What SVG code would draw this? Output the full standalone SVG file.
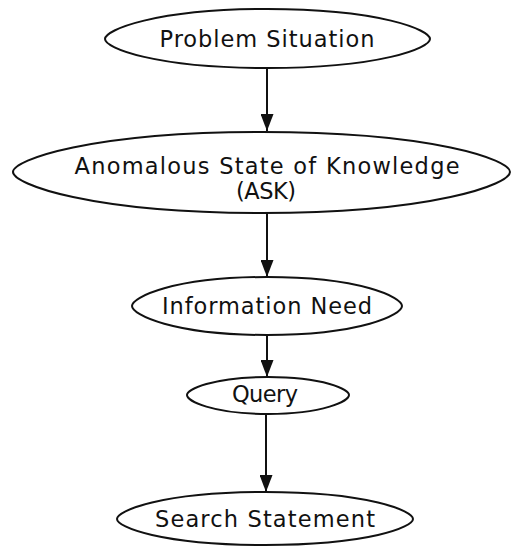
<svg xmlns="http://www.w3.org/2000/svg" width="513" height="547" viewBox="0 0 513 547">
  <style>
    .shape { fill: none; stroke: #111; stroke-width: 2; stroke-linejoin: round; }
    .label { font-family: "DejaVu Sans", "Liberation Sans", sans-serif; font-size: 22.5px; fill: #111; text-anchor: middle; }
    .edge { stroke: #111; stroke-width: 2; fill: none; }
  </style>
  <defs>
    <marker id="arrowhead" markerUnits="userSpaceOnUse" markerWidth="18" markerHeight="13" refX="17" refY="6.5" orient="auto">
      <path d="M0,0 L17,6.5 L0,13 Z" fill="#111"/>
    </marker>
  </defs>
  <rect width="513" height="547" fill="#fff"/>

  <g id="connectors">
    <line class="edge" x1="267" y1="68" x2="267" y2="131" marker-end="url(#arrowhead)"/>
    <line class="edge" x1="267" y1="213" x2="267" y2="277" marker-end="url(#arrowhead)"/>
    <line class="edge" x1="267" y1="335" x2="267" y2="377" marker-end="url(#arrowhead)"/>
    <line class="edge" x1="266" y1="414" x2="266" y2="492" marker-end="url(#arrowhead)"/>
  </g>

  <g id="problem-situation">
    <path class="shape" d="M105,39 C105,30 155,9 267.5,9 C380,9 430,30 430,39 C430,48 380,68 267.5,68 C155,68 105,48 105,39 Z"/>
    <text class="label" x="267" y="47" textLength="215" lengthAdjust="spacing">Problem Situation</text>
  </g>

  <g id="ask">
    <path class="shape" d="M13,172 C13,160 90,132 262,132 C434,132 510,160 510,172 C510,184 434,213 262,213 C90,213 13,184 13,172 Z"/>
    <text class="label" x="267" y="174" textLength="385" lengthAdjust="spacing">Anomalous State of Knowledge</text>
    <text class="label" x="266" y="199" textLength="60" lengthAdjust="spacing">(ASK)</text>
  </g>

  <g id="information-need">
    <path class="shape" d="M132,306 C132,297.3 173,277 267,277 C361,277 402,297.3 402,306 C402,314.7 361,335 267,335 C173,335 132,314.7 132,306 Z"/>
    <text class="label" x="267" y="314" textLength="210" lengthAdjust="spacing">Information Need</text>
  </g>

  <g id="query">
    <path class="shape" d="M187,395 C187,389.6 211.7,377 268,377 C324.3,377 349,389.6 349,395 C349,400.7 324.3,414 268,414 C211.7,414 187,400.7 187,395 Z"/>
    <text class="label" x="265" y="402" textLength="66" lengthAdjust="spacing">Query</text>
  </g>

  <g id="search-statement">
    <path class="shape" d="M117,519 C117,511 161,492 265,492 C369,492 413,511 413,519 C413,527 369,545 265,545 C161,545 117,527 117,519 Z"/>
    <text class="label" x="265" y="527" textLength="220" lengthAdjust="spacing">Search Statement</text>
  </g>
</svg>
